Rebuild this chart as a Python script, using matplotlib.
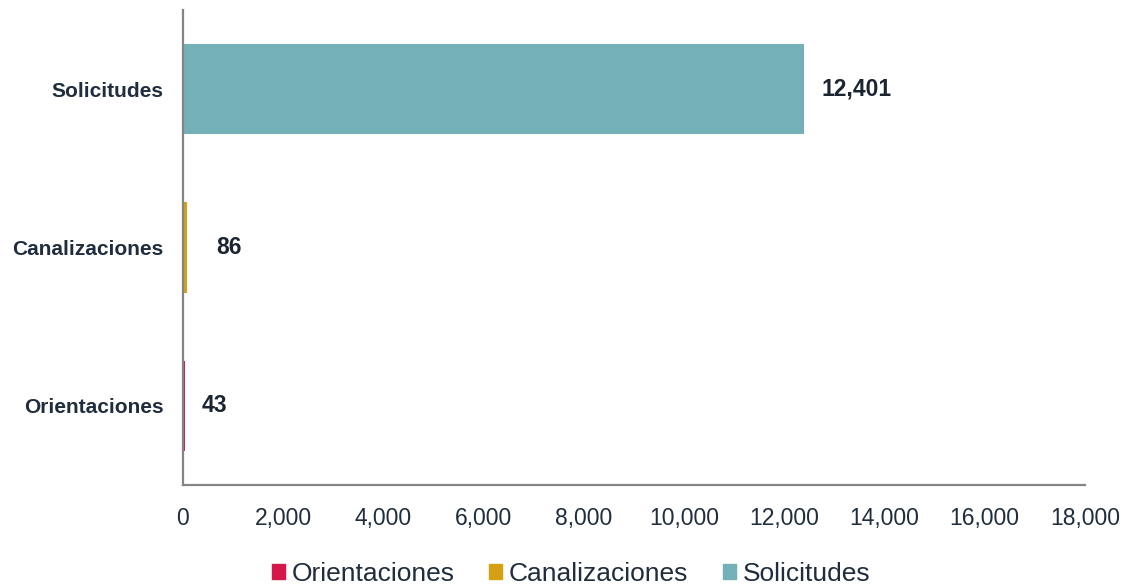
import matplotlib
matplotlib.use("Agg")
import matplotlib.pyplot as plt
from matplotlib.patches import Patch

# Data (bottom to top)
categories = ["Orientaciones", "Canalizaciones", "Solicitudes"]
values = [43, 86, 12401]
colors = ["#D5174A", "#D6A013", "#74B0B7"]
x_ticks = [0, 2000, 4000, 6000, 8000, 10000, 12000, 14000, 16000, 18000]

TEXT = "#1F2D3D"
AXIS = "#858585"
plt.rcParams["font.family"] = ["Liberation Sans", "DejaVu Sans"]

fig = plt.figure(figsize=(11.31, 5.84), dpi=100)
ax = fig.add_axes([0.1618, 0.1695, 0.7975, 0.8135])

y = range(len(categories))
ax.barh(y, values, height=0.57, color=colors)

# value labels (offset in points right of bar end)
label_offsets = [12, 21, 12]
for yi, v, off in zip(y, values, label_offsets):
    ax.annotate(f"{v:,}", xy=(v, yi), xytext=(off, 0), textcoords="offset points",
                ha="left", va="center", fontsize=16.5, fontweight="bold", color="#1b2431")

ax.set_xlim(0, 18000)
ax.set_ylim(-0.5, 2.5)
ax.set_xticks(x_ticks)
ax.set_xticklabels([f"{t:,}" for t in x_ticks])
ax.set_yticks(list(y))
ax.set_yticklabels(categories, fontweight="bold", fontsize=15)
ax.tick_params(axis="x", length=0, pad=16, labelsize=16.5, labelcolor=TEXT)
ax.tick_params(axis="y", length=0, pad=14, labelcolor=TEXT)

for side in ["top", "right"]:
    ax.spines[side].set_visible(False)
for side in ["left", "bottom"]:
    ax.spines[side].set_color(AXIS)
    ax.spines[side].set_linewidth(1.6)

handles = [Patch(color=c, label=n) for c, n in zip(colors, categories)]
fig.legend(handles=handles, loc="center", bbox_to_anchor=(0.505, 0.017),
           ncol=3, frameon=False, fontsize=19, labelcolor=TEXT,
           handlelength=0.5, handleheight=0.5, handletextpad=0.25,
           columnspacing=1.3, borderpad=0)

fig.savefig("out.png", dpi=100)
